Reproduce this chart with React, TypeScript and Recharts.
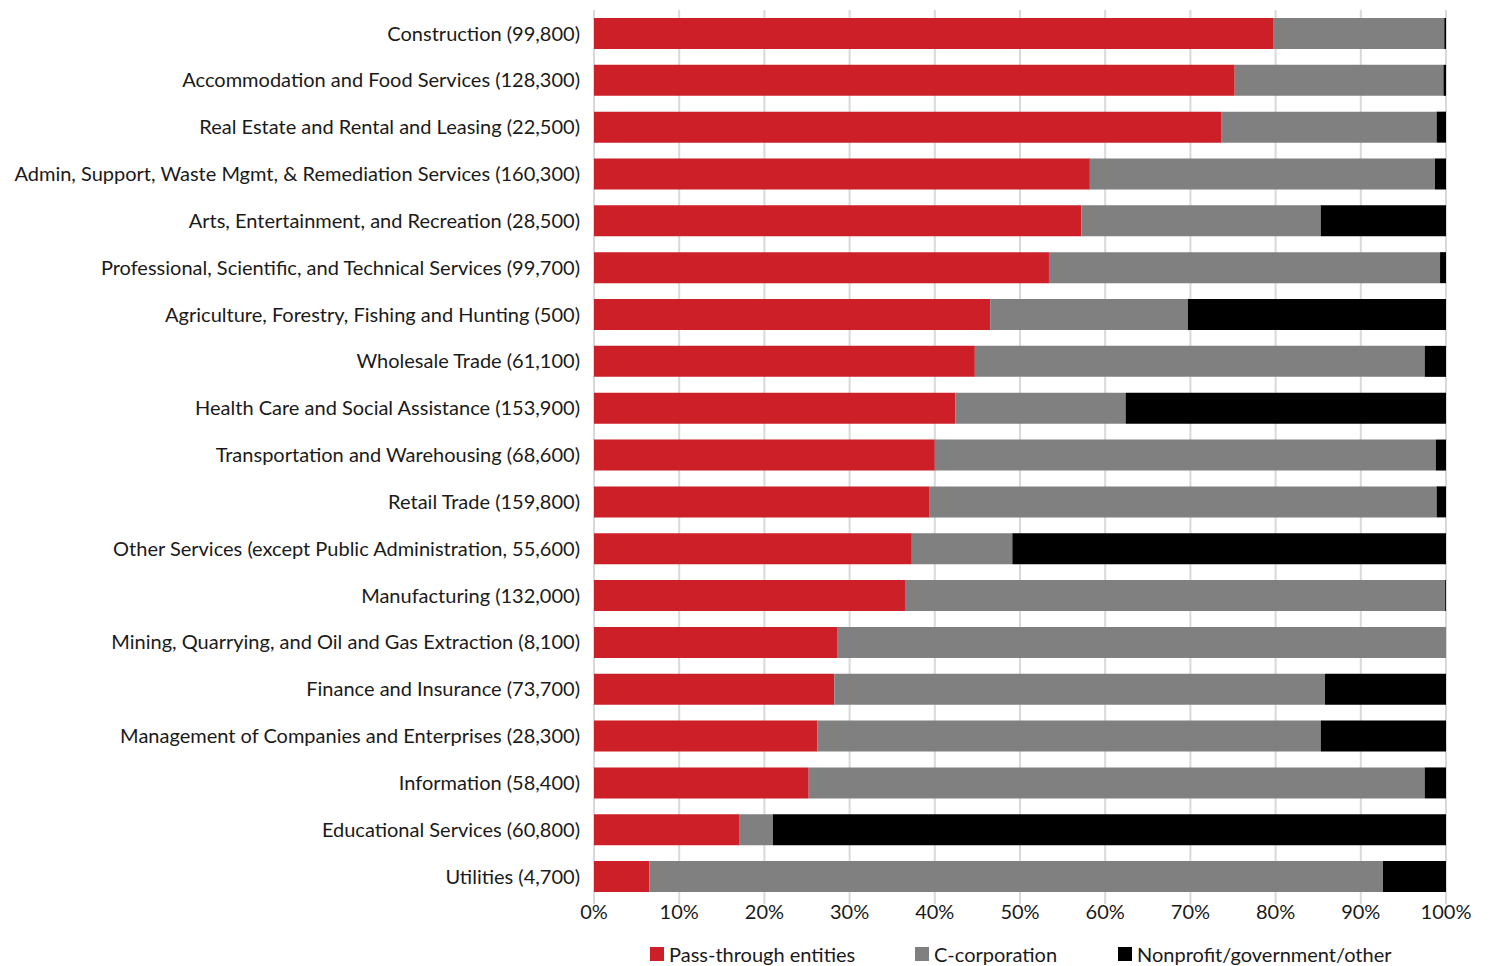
import { BarChart, Bar, XAxis, YAxis, CartesianGrid } from 'recharts';

const industries = [
  'Construction (99,800)',
  'Accommodation and Food Services (128,300)',
  'Real Estate and Rental and Leasing (22,500)',
  'Admin, Support, Waste Mgmt, & Remediation Services (160,300)',
  'Arts, Entertainment, and Recreation (28,500)',
  'Professional, Scientific, and Technical Services (99,700)',
  'Agriculture, Forestry, Fishing and Hunting (500)',
  'Wholesale Trade (61,100)',
  'Health Care and Social Assistance (153,900)',
  'Transportation and Warehousing (68,600)',
  'Retail Trade (159,800)',
  'Other Services (except Public Administration, 55,600)',
  'Manufacturing (132,000)',
  'Mining, Quarrying, and Oil and Gas Extraction (8,100)',
  'Finance and Insurance (73,700)',
  'Management of Companies and Enterprises (28,300)',
  'Information (58,400)',
  'Educational Services (60,800)',
  'Utilities (4,700)',
];

const passThrough = [79.7, 75.2, 73.6, 58.2, 57.2, 53.4, 46.5, 44.7, 42.4, 40.0, 39.4, 37.3, 36.5, 28.6, 28.2, 26.2, 25.2, 17.1, 6.5];
const cCorp = [20.1, 24.5, 25.3, 40.5, 28.1, 45.9, 23.2, 52.8, 20.0, 58.8, 59.5, 11.8, 63.4, 71.4, 57.6, 59.1, 72.3, 3.9, 86.1];
const nonprofit = [0.2, 0.3, 1.1, 1.3, 14.7, 0.7, 30.3, 2.5, 37.6, 1.2, 1.1, 50.9, 0.1, 0.0, 14.2, 14.7, 2.5, 79.0, 7.4];

const xTicks = [0, 10, 20, 30, 40, 50, 60, 70, 80, 90, 100];

const seriesNames = ['Pass-through entities', 'C-corporation', 'Nonprofit/government/other'];
const seriesColors = ['#cc1f27', '#808080', '#000000'];

const data = industries.map((name, i) => ({
  name,
  pass: passThrough[i],
  ccorp: cCorp[i],
  other: nonprofit[i],
}));

const FONT = 'Lato, "Open Sans", sans-serif';

export default function App() {
  return (
    <div style={{ position: 'absolute', left: 0, top: 0, width: 1494, height: 966, fontFamily: FONT, background: '#fff' }}>
      <BarChart
        width={1494}
        height={966}
        data={data}
        layout="vertical"
        margin={{ top: 10, right: 48, left: 0, bottom: 36 }}
        barCategoryGap="17%"
      >
        <CartesianGrid horizontal={false} stroke="#d9d9d9" strokeWidth={2} />
        <XAxis
          type="number"
          domain={[0, 100]}
          ticks={xTicks}
          tickFormatter={(v) => `${v}%`}
          axisLine={false}
          height={30}
          tickLine={{ stroke: '#d9d9d9', strokeWidth: 2 }}
          tickSize={4}
          tickMargin={1}
          tick={{ fill: '#1a1a1a', fontSize: 20, fontFamily: FONT }}
          interval={0}
        />
        <YAxis
          type="category"
          dataKey="name"
          width={594}
          axisLine={false}
          tickLine={false}
          tickMargin={8}
          interval={0}
          tick={{ fill: '#1a1a1a', fontSize: 20, fontFamily: FONT }}
        />
        <Bar dataKey="pass" stackId="a" fill={seriesColors[0]} isAnimationActive={false} />
        <Bar dataKey="ccorp" stackId="a" fill={seriesColors[1]} isAnimationActive={false} />
        <Bar dataKey="other" stackId="a" fill={seriesColors[2]} isAnimationActive={false} />
      </BarChart>
      {/* legend */}
      {seriesNames.map((s, i) => {
        const lefts = [650, 915, 1118];
        return (
          <div
            key={s}
            style={{
              position: 'absolute',
              left: lefts[i],
              top: 942,
              display: 'flex',
              alignItems: 'center',
              fontSize: 20,
              color: '#1a1a1a',
              whiteSpace: 'nowrap',
            }}
          >
            <span style={{ display: 'inline-block', width: 14, height: 14, background: seriesColors[i], marginRight: 5 }} />
            {s}
          </div>
        );
      })}
    </div>
  );
}
